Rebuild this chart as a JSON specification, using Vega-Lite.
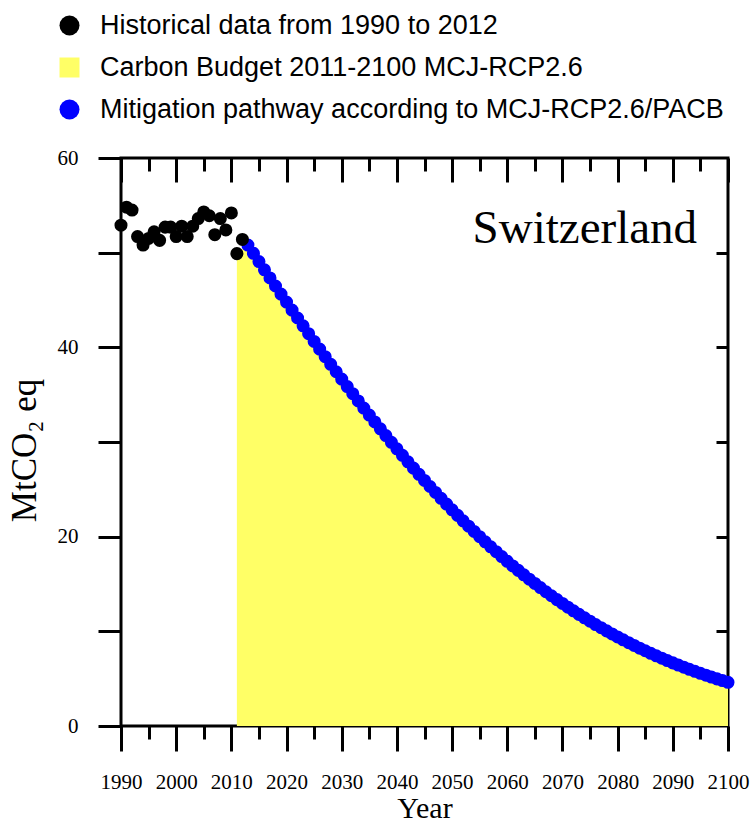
{
  "$schema": "https://vega.github.io/schema/vega-lite/v6.json",
  "width": 607,
  "height": 568,
  "autosize": "none",
  "padding": {"left": 121, "top": 158, "right": 23, "bottom": 97},
  "config": {
    "view": {"stroke": "black", "strokeWidth": 3},
    "axis": {"domain": false, "grid": false, "tickColor": "black", "tickWidth": 3, "labelFont": "Liberation Serif", "labelFontSize": 21, "labelColor": "black", "labelFlush": false, "labelOverlap": false, "titleFont": "Liberation Serif", "titleFontWeight": "normal", "titleColor": "black"},
    "legend": {"labelFont": "Liberation Sans", "labelFontSize": 27, "labelColor": "black", "symbolSize": 400, "rowPadding": 14, "labelOffset": 17, "padding": 0, "symbolStrokeWidth": 0, "symbolOpacity": 1, "labelLimit": 0}
  },
  "datasets": {
    "hist": [
      {"year": 1990, "value": 52.9}, {"year": 1991, "value": 54.8}, {"year": 1992, "value": 54.5},
      {"year": 1993, "value": 51.7}, {"year": 1994, "value": 50.8}, {"year": 1995, "value": 51.5},
      {"year": 1996, "value": 52.2}, {"year": 1997, "value": 51.3}, {"year": 1998, "value": 52.7},
      {"year": 1999, "value": 52.7}, {"year": 2000, "value": 51.7}, {"year": 2001, "value": 52.8},
      {"year": 2002, "value": 51.7}, {"year": 2003, "value": 52.8}, {"year": 2004, "value": 53.6},
      {"year": 2005, "value": 54.3}, {"year": 2006, "value": 53.9}, {"year": 2007, "value": 51.9},
      {"year": 2008, "value": 53.6}, {"year": 2009, "value": 52.4}, {"year": 2010, "value": 54.2},
      {"year": 2011, "value": 49.9}, {"year": 2012, "value": 51.4}
    ],
    "path": [
      {"year": 2013, "value": 50.8}, {"year": 2014, "value": 49.93}, {"year": 2015, "value": 49.06},
      {"year": 2016, "value": 48.19}, {"year": 2017, "value": 47.33}, {"year": 2018, "value": 46.48},
      {"year": 2019, "value": 45.62}, {"year": 2020, "value": 44.78}, {"year": 2021, "value": 43.93},
      {"year": 2022, "value": 43.1}, {"year": 2023, "value": 42.27}, {"year": 2024, "value": 41.44},
      {"year": 2025, "value": 40.62}, {"year": 2026, "value": 39.81}, {"year": 2027, "value": 39.01},
      {"year": 2028, "value": 38.21}, {"year": 2029, "value": 37.42}, {"year": 2030, "value": 36.64},
      {"year": 2031, "value": 35.86}, {"year": 2032, "value": 35.1}, {"year": 2033, "value": 34.34},
      {"year": 2034, "value": 33.59}, {"year": 2035, "value": 32.85}, {"year": 2036, "value": 32.12},
      {"year": 2037, "value": 31.39}, {"year": 2038, "value": 30.68}, {"year": 2039, "value": 29.97},
      {"year": 2040, "value": 29.28}, {"year": 2041, "value": 28.59}, {"year": 2042, "value": 27.91},
      {"year": 2043, "value": 27.24}, {"year": 2044, "value": 26.59}, {"year": 2045, "value": 25.94},
      {"year": 2046, "value": 25.3}, {"year": 2047, "value": 24.67}, {"year": 2048, "value": 24.05},
      {"year": 2049, "value": 23.44}, {"year": 2050, "value": 22.84}, {"year": 2051, "value": 22.25},
      {"year": 2052, "value": 21.67}, {"year": 2053, "value": 21.11}, {"year": 2054, "value": 20.55},
      {"year": 2055, "value": 20.0}, {"year": 2056, "value": 19.46}, {"year": 2057, "value": 18.93},
      {"year": 2058, "value": 18.41}, {"year": 2059, "value": 17.9}, {"year": 2060, "value": 17.4},
      {"year": 2061, "value": 16.91}, {"year": 2062, "value": 16.44}, {"year": 2063, "value": 15.97},
      {"year": 2064, "value": 15.51}, {"year": 2065, "value": 15.06}, {"year": 2066, "value": 14.62},
      {"year": 2067, "value": 14.18}, {"year": 2068, "value": 13.76}, {"year": 2069, "value": 13.35},
      {"year": 2070, "value": 12.95}, {"year": 2071, "value": 12.55}, {"year": 2072, "value": 12.17},
      {"year": 2073, "value": 11.79}, {"year": 2074, "value": 11.43}, {"year": 2075, "value": 11.07},
      {"year": 2076, "value": 10.72}, {"year": 2077, "value": 10.38}, {"year": 2078, "value": 10.05},
      {"year": 2079, "value": 9.72}, {"year": 2080, "value": 9.41}, {"year": 2081, "value": 9.1},
      {"year": 2082, "value": 8.8}, {"year": 2083, "value": 8.51}, {"year": 2084, "value": 8.22},
      {"year": 2085, "value": 7.95}, {"year": 2086, "value": 7.68}, {"year": 2087, "value": 7.41},
      {"year": 2088, "value": 7.16}, {"year": 2089, "value": 6.91}, {"year": 2090, "value": 6.67},
      {"year": 2091, "value": 6.44}, {"year": 2092, "value": 6.21}, {"year": 2093, "value": 5.99},
      {"year": 2094, "value": 5.78}, {"year": 2095, "value": 5.57}, {"year": 2096, "value": 5.37},
      {"year": 2097, "value": 5.17}, {"year": 2098, "value": 4.98}, {"year": 2099, "value": 4.8},
      {"year": 2100, "value": 4.62}
    ],
    "budget": [
      {"year": 2011, "value": 49.9}, {"year": 2012, "value": 50.4},
      {"year": 2013, "value": 50.8}, {"year": 2014, "value": 49.93}, {"year": 2015, "value": 49.06},
      {"year": 2016, "value": 48.19}, {"year": 2017, "value": 47.33}, {"year": 2018, "value": 46.48},
      {"year": 2019, "value": 45.62}, {"year": 2020, "value": 44.78}, {"year": 2021, "value": 43.93},
      {"year": 2022, "value": 43.1}, {"year": 2023, "value": 42.27}, {"year": 2024, "value": 41.44},
      {"year": 2025, "value": 40.62}, {"year": 2026, "value": 39.81}, {"year": 2027, "value": 39.01},
      {"year": 2028, "value": 38.21}, {"year": 2029, "value": 37.42}, {"year": 2030, "value": 36.64},
      {"year": 2031, "value": 35.86}, {"year": 2032, "value": 35.1}, {"year": 2033, "value": 34.34},
      {"year": 2034, "value": 33.59}, {"year": 2035, "value": 32.85}, {"year": 2036, "value": 32.12},
      {"year": 2037, "value": 31.39}, {"year": 2038, "value": 30.68}, {"year": 2039, "value": 29.97},
      {"year": 2040, "value": 29.28}, {"year": 2041, "value": 28.59}, {"year": 2042, "value": 27.91},
      {"year": 2043, "value": 27.24}, {"year": 2044, "value": 26.59}, {"year": 2045, "value": 25.94},
      {"year": 2046, "value": 25.3}, {"year": 2047, "value": 24.67}, {"year": 2048, "value": 24.05},
      {"year": 2049, "value": 23.44}, {"year": 2050, "value": 22.84}, {"year": 2051, "value": 22.25},
      {"year": 2052, "value": 21.67}, {"year": 2053, "value": 21.11}, {"year": 2054, "value": 20.55},
      {"year": 2055, "value": 20.0}, {"year": 2056, "value": 19.46}, {"year": 2057, "value": 18.93},
      {"year": 2058, "value": 18.41}, {"year": 2059, "value": 17.9}, {"year": 2060, "value": 17.4},
      {"year": 2061, "value": 16.91}, {"year": 2062, "value": 16.44}, {"year": 2063, "value": 15.97},
      {"year": 2064, "value": 15.51}, {"year": 2065, "value": 15.06}, {"year": 2066, "value": 14.62},
      {"year": 2067, "value": 14.18}, {"year": 2068, "value": 13.76}, {"year": 2069, "value": 13.35},
      {"year": 2070, "value": 12.95}, {"year": 2071, "value": 12.55}, {"year": 2072, "value": 12.17},
      {"year": 2073, "value": 11.79}, {"year": 2074, "value": 11.43}, {"year": 2075, "value": 11.07},
      {"year": 2076, "value": 10.72}, {"year": 2077, "value": 10.38}, {"year": 2078, "value": 10.05},
      {"year": 2079, "value": 9.72}, {"year": 2080, "value": 9.41}, {"year": 2081, "value": 9.1},
      {"year": 2082, "value": 8.8}, {"year": 2083, "value": 8.51}, {"year": 2084, "value": 8.22},
      {"year": 2085, "value": 7.95}, {"year": 2086, "value": 7.68}, {"year": 2087, "value": 7.41},
      {"year": 2088, "value": 7.16}, {"year": 2089, "value": 6.91}, {"year": 2090, "value": 6.67},
      {"year": 2091, "value": 6.44}, {"year": 2092, "value": 6.21}, {"year": 2093, "value": 5.99},
      {"year": 2094, "value": 5.78}, {"year": 2095, "value": 5.57}, {"year": 2096, "value": 5.37},
      {"year": 2097, "value": 5.17}, {"year": 2098, "value": 4.98}, {"year": 2099, "value": 4.8},
      {"year": 2100, "value": 4.62}
    ],
    "label": [{"year": 2094.4, "value": 51.0, "text": "Switzerland"}]
  },
  "layer": [
    {
      "data": {"name": "budget"},
      "mark": {"type": "area", "opacity": 1},
      "encoding": {
        "x": {"field": "year", "type": "quantitative", "scale": {"domain": [1990, 2100], "nice": false, "zero": false},
              "axis": {"orient": "bottom", "values": [1990, 2000, 2010, 2020, 2030, 2040, 2050, 2060, 2070, 2080, 2090, 2100], "tickSize": 25, "tickWidth": 3, "tickColor": "black", "labelPadding": 20, "labelFont": "Liberation Serif", "labelFontSize": 21, "labelColor": "black", "labelFlush": false, "labelOverlap": false, "format": "d", "title": "Year", "titleFont": "Liberation Serif", "titleFontWeight": "normal", "titleFontSize": 30, "titlePadding": 1}},
        "y": {"field": "value", "type": "quantitative", "scale": {"domain": [0, 60], "nice": false},
              "axis": {"orient": "left", "values": [0, 10, 20, 30, 40, 50, 60], "tickSize": 23, "tickWidth": 3, "tickColor": "black", "labelPadding": 20, "labelFont": "Liberation Serif", "labelFontSize": 21, "labelColor": "black", "labelFlush": false, "labelOverlap": false, "labelExpr": "datum.value % 20 === 0 ? datum.label : ''", "title": "MtCO₂ eq", "titleFont": "Liberation Serif", "titleFontWeight": "normal", "titleFontSize": 35, "titlePadding": 15, "titleY": 292}},
        "color": {"datum": "Carbon Budget 2011-2100 MCJ-RCP2.6", "type": "nominal",
                  "scale": {"domain": ["Historical data from 1990 to 2012", "Carbon Budget 2011-2100 MCJ-RCP2.6", "Mitigation pathway according to MCJ-RCP2.6/PACB"], "range": ["#000000", "#FFFF66", "#0000FF"]},
                  "legend": {"orient": "none", "legendX": -65, "legendY": -146, "title": null}}
      }
    },
    {
      "data": {"name": "path"},
      "mark": {"type": "point", "filled": true, "opacity": 1, "size": 170, "strokeWidth": 0},
      "encoding": {
        "x": {"field": "year", "type": "quantitative",
              "axis": {"orient": "bottom", "values": [1995, 2005, 2015, 2025, 2035, 2045, 2055, 2065, 2075, 2085, 2095], "tickSize": 13, "tickWidth": 3, "tickColor": "black", "labels": false, "title": null}},
        "y": {"field": "value", "type": "quantitative",
              "axis": {"orient": "right", "values": [10, 20, 30, 40, 50], "tickSize": -12, "tickWidth": 3, "tickColor": "black", "labels": false, "title": null}},
        "color": {"datum": "Mitigation pathway according to MCJ-RCP2.6/PACB", "type": "nominal",
                  "legend": {"orient": "none", "legendX": -65, "legendY": -146, "title": null}},
        "shape": {"datum": "Mitigation pathway according to MCJ-RCP2.6/PACB", "type": "nominal",
                  "scale": {"domain": ["Historical data from 1990 to 2012", "Carbon Budget 2011-2100 MCJ-RCP2.6", "Mitigation pathway according to MCJ-RCP2.6/PACB"], "range": ["circle", "square", "circle"]},
                  "legend": {"orient": "none", "legendX": -65, "legendY": -146, "title": null}}
      }
    },
    {
      "data": {"name": "hist"},
      "mark": {"type": "point", "filled": true, "opacity": 1, "size": 170, "strokeWidth": 0},
      "encoding": {
        "x": {"field": "year", "type": "quantitative",
              "axis": {"orient": "top", "values": [1990, 2000, 2010, 2020, 2030, 2040, 2050, 2060, 2070, 2080, 2090, 2100], "tickSize": -24, "tickWidth": 3, "tickColor": "black", "labels": false, "title": null}},
        "y": {"field": "value", "type": "quantitative", "axis": null},
        "color": {"datum": "Historical data from 1990 to 2012", "type": "nominal",
                  "legend": {"orient": "none", "legendX": -65, "legendY": -146, "title": null}},
        "shape": {"datum": "Historical data from 1990 to 2012", "type": "nominal",
                  "legend": {"orient": "none", "legendX": -65, "legendY": -146, "title": null}}
      }
    },
    {
      "data": {"name": "label"},
      "mark": {"type": "text", "align": "right", "baseline": "alphabetic", "font": "Liberation Serif", "fontSize": 47, "color": "black"},
      "encoding": {
        "x": {"field": "year", "type": "quantitative",
              "axis": {"orient": "top", "values": [1995, 2005, 2015, 2025, 2035, 2045, 2055, 2065, 2075, 2085, 2095], "tickSize": -13, "tickWidth": 3, "tickColor": "black", "labels": false, "title": null}},
        "y": {"field": "value", "type": "quantitative", "axis": null},
        "text": {"field": "text"}
      }
    }
  ],
  "resolve": {"axis": {"x": "independent", "y": "independent"}}
}
